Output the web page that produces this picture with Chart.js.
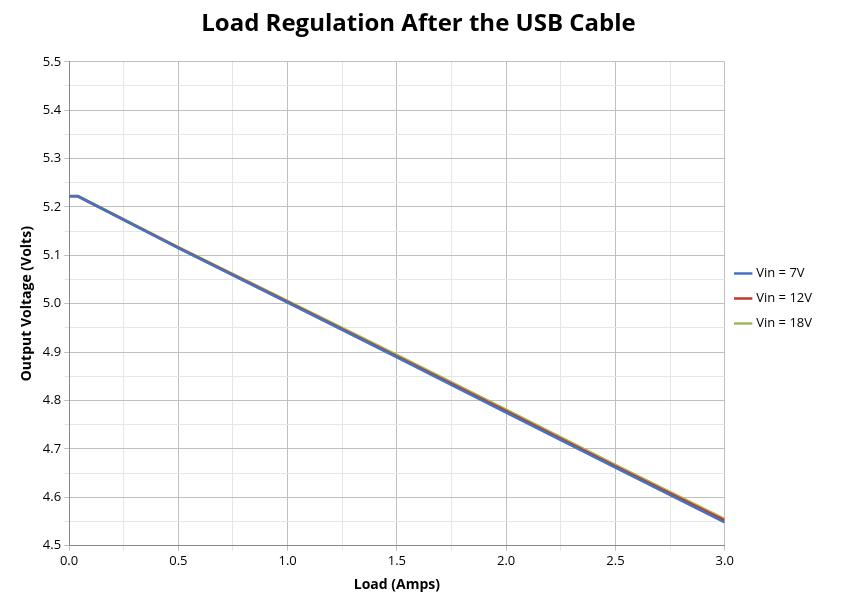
<!DOCTYPE html>
<html><head><meta charset="utf-8">
<script src="https://cdn.jsdelivr.net/npm/chart.js@4"></script>
<style>body{margin:0;background:#fff}#wrap{width:844px;height:614px}</style>
</head><body><div id="wrap"><canvas id="c"></canvas></div>
<script>
const loads = [0, 0.04, 0.5, 1.0, 1.5, 2.0, 2.5, 3.0];
const vin7 = [5.222, 5.222, 5.115, 5.002, 4.889, 4.775, 4.661, 4.548];
const vin12 = [5.222, 5.222, 5.116, 5.004, 4.891, 4.778, 4.664, 4.552];
const vin18 = [5.223, 5.223, 5.117, 5.006, 4.894, 4.781, 4.667, 4.555];
const seriesNames = ['Vin = 7V', 'Vin = 12V', 'Vin = 18V'];
const colors = ['#4472c4', '#c0392b', '#9bbb59'];

const toPts = arr => arr.map((v, i) => ({x: loads[i], y: v}));
const isMajor = (v, step) => Math.abs(Math.round(v / step) * step - v) < 1e-6;

new Chart(document.getElementById('c'), {
  type: 'line',
  data: {
    datasets: [vin7, vin12, vin18].map((d, i) => ({
      label: seriesNames[i], data: toPts(d), borderColor: colors[i],
      backgroundColor: colors[i], borderWidth: 2.5, pointRadius: 0, tension: 0
    }))
  },
  options: {
    responsive: true, maintainAspectRatio: false, animation: false,
    layout: {padding: {left: 15, right: 22, top: 0, bottom: 17}},
    plugins: {
      title: {display: true, text: 'Load Regulation After the USB Cable', color: '#000',
        font: {family: 'Open Sans', size: 24, weight: 'bold'}, padding: {top: 10, bottom: 23}},
      legend: {position: 'right', labels: {usePointStyle: true, pointStyle: 'line', boxWidth: 30,
        color: '#000', font: {family: 'Open Sans', size: 13}, padding: 12}}
    },
    scales: {
      x: {type: 'linear', min: 0, max: 3,
        ticks: {stepSize: 0.25, color: '#000', font: {family: 'Open Sans', size: 13},
          callback: v => isMajor(v, 0.5) ? v.toFixed(1) : ''},
        grid: {color: c => isMajor(c.tick.value, 0.5) ? '#bfbfbf' : '#e6e6e6', tickLength: 5},
        border: {color: '#888'},
        title: {display: true, text: 'Load (Amps)', color: '#000',
          font: {family: 'Open Sans', size: 14, weight: 'bold'}}},
      y: {min: 4.5, max: 5.5,
        ticks: {stepSize: 0.05, color: '#000', font: {family: 'Open Sans', size: 13},
          callback: v => isMajor(v, 0.1) ? v.toFixed(1) : ''},
        grid: {color: c => isMajor(c.tick.value, 0.1) ? '#bfbfbf' : '#e6e6e6', tickLength: 5},
        border: {color: '#888'},
        title: {display: true, text: 'Output Voltage (Volts)', color: '#000',
          font: {family: 'Open Sans', size: 14, weight: 'bold'}}}
    }
  }
});
</script></body></html>
